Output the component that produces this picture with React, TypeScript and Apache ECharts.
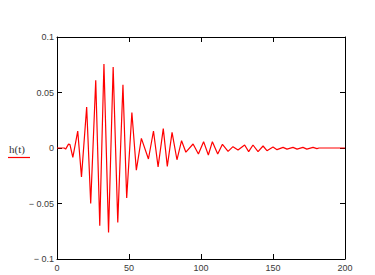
import React, { useEffect, useRef } from "react";
import * as echarts from "echarts";

// Extrema of h(t) (t, h)
const tValues = [0, 5, 6, 8, 9, 11, 14.4, 17, 20.6, 23.4, 26.9, 29.7, 32.6, 35.8, 39, 42.2, 45.8, 48.4, 52, 55.1, 58.6, 63.5, 67, 70.2, 73.8, 76.6, 79.9, 83.3, 86.5, 89.5, 94.5, 98.2, 101.8, 105.1, 107.9, 111.6, 114.9, 118.8, 122.2, 125.7, 130.3, 133.1, 136.1, 139.6, 143.1, 145.8, 150, 152.8, 157, 159.7, 163.9, 166.7, 170.8, 173.5, 177.8, 180.5, 182, 200];
const hValues = [0, 0, -0.001, 0.0035, 0.003, -0.0085, 0.0153, -0.026, 0.037, -0.05, 0.061, -0.07, 0.0757, -0.076, 0.073, -0.067, 0.057, -0.045, 0.032, -0.02, 0.0087, -0.0099, 0.0153, -0.017, 0.0175, -0.0166, 0.0141, -0.0106, 0.0066, -0.0038, 0.0036, -0.0054, 0.0057, -0.0063, 0.0057, -0.0054, 0.0033, -0.003, 0.0012, -0.0018, 0.0027, -0.0033, 0.0027, -0.0033, 0.0018, -0.0024, 0.0009, -0.0015, 0.0006, -0.001, 0.0006, -0.001, 0.0006, -0.001, 0.0006, -0.0006, 0, 0];

const xTicks = [0, 50, 100, 150, 200];
const yTicks = [-0.1, -0.05, 0, 0.05, 0.1];
const seriesLabel = "h(t)";

export default function App() {
  const ref = useRef<HTMLDivElement>(null);
  useEffect(() => {
    if (!ref.current) return;
    const chart = echarts.init(ref.current, null, { renderer: "svg" });
    const labelFont = { fontFamily: "Liberation Sans", fontSize: 9, color: "#3a3a3a" };
    const fmtY = (v: number) => {
      const r = Math.round(v * 1000) / 1000;
      return r < 0 ? "\u2212 " + Math.abs(r) : String(r);
    };
    const axisLine = { show: true, onZero: false, lineStyle: { color: "#000", width: 1 } };
    const axisTick = { show: true, inside: true, length: 5, lineStyle: { color: "#000", width: 1 } };
    chart.setOption({
      animation: false,
      backgroundColor: "#fff",
      grid: { left: 57, top: 37, width: 288, height: 222, show: false },
      xAxis: [
        {
          type: "value",
          min: xTicks[0],
          max: xTicks[xTicks.length - 1],
          interval: 50,
          position: "bottom",
          axisLine,
          axisTick,
          splitLine: { show: false },
          axisLabel: { ...labelFont, margin: 4 },
        },
        {
          type: "value",
          min: xTicks[0],
          max: xTicks[xTicks.length - 1],
          interval: 50,
          position: "top",
          axisLine,
          axisTick,
          splitLine: { show: false },
          axisLabel: { show: false },
        },
      ],
      yAxis: [
        {
          type: "value",
          min: yTicks[0],
          max: yTicks[yTicks.length - 1],
          interval: 0.05,
          position: "left",
          axisLine,
          axisTick,
          splitLine: { show: false },
          axisLabel: { ...labelFont, margin: 3, formatter: fmtY },
        },
        {
          type: "value",
          min: yTicks[0],
          max: yTicks[yTicks.length - 1],
          interval: 0.05,
          position: "right",
          axisLine,
          axisTick,
          splitLine: { show: false },
          axisLabel: { show: false },
        },
      ],
      series: [
        {
          name: seriesLabel,
          type: "line",
          xAxisIndex: 0,
          yAxisIndex: 0,
          data: tValues.map((t, i) => [t, hValues[i]]),
          showSymbol: false,
          symbol: "none",
          lineStyle: { color: "#ff0000", width: 1.2 },
          z: 1,
        },
      ],
      graphic: [
        {
          type: "text",
          left: 9,
          top: 143,
          style: { text: seriesLabel, fontFamily: "Liberation Serif", fontSize: 11, fill: "#333" },
        },
        {
          type: "line",
          shape: { x1: 8, y1: 157.5, x2: 30, y2: 157.5 },
          style: { stroke: "#ff0000", lineWidth: 1.2 },
        },
      ],
    });
    return () => chart.dispose();
  }, []);
  return (
    <div
      ref={ref}
      style={{ position: "fixed", left: 0, top: 0, width: 375, height: 275, background: "#fff" }}
    />
  );
}
